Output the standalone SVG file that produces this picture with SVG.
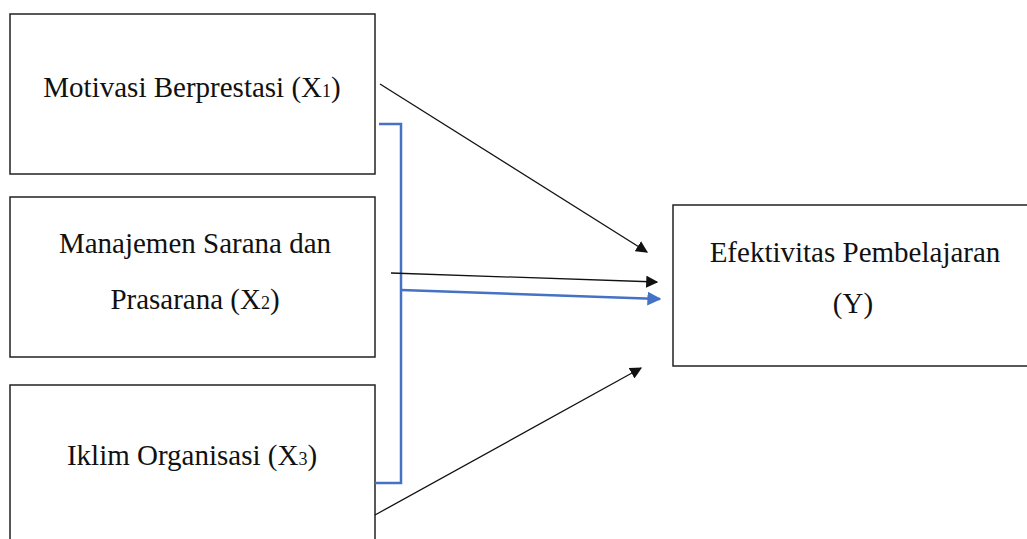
<svg xmlns="http://www.w3.org/2000/svg" width="1027" height="539" viewBox="0 0 1027 539">
<style>
.box{fill:#fff;stroke:#222;stroke-width:1.5}
.t{font-family:"Liberation Serif","Times New Roman",serif;font-size:29px;fill:#111;text-anchor:middle}
.s{font-size:18px}
.blk{stroke:#111;stroke-width:1.3;fill:none}
.blu{stroke:#4472c4;stroke-width:2.5;fill:none}
</style>
<defs>
<marker id="ab" viewBox="0 0 10 10" refX="9" refY="5" markerWidth="12" markerHeight="12" markerUnits="userSpaceOnUse" orient="auto"><path d="M0,0 L10,5 L0,10 z" fill="#111"/></marker>
<marker id="au" viewBox="0 0 10 10" refX="9" refY="5" markerWidth="14" markerHeight="14" markerUnits="userSpaceOnUse" orient="auto"><path d="M0,0 L10,5 L0,10 z" fill="#4472c4"/></marker>
</defs>
<rect width="1027" height="539" fill="#fff"/>
<g id="x1"><rect class="box" x="10" y="14" width="365" height="160"/><text class="t" x="192" y="97">Motivasi Berprestasi (X<tspan class="s">1</tspan>)</text></g>
<g id="x2"><rect class="box" x="10" y="197" width="365" height="160"/><text class="t" x="195" y="253">Manajemen Sarana dan</text><text class="t" x="195" y="309">Prasarana (X<tspan class="s">2</tspan>)</text></g>
<g id="x3"><rect class="box" x="10" y="385" width="365" height="170"/><text class="t" x="192" y="465">Iklim Organisasi (X<tspan class="s">3</tspan>)</text></g>
<g id="y"><rect class="box" x="673" y="205" width="380" height="161"/><text class="t" x="855" y="262">Efektivitas Pembelajaran</text><text class="t" x="853" y="313">(Y)</text></g>
<g id="connectors">
<path class="blu" d="M379,124 H401 V483 H375"/>
<line class="blu" x1="401" y1="290" x2="660" y2="299" marker-end="url(#au)"/>
<line class="blk" x1="391" y1="273" x2="657" y2="282" marker-end="url(#ab)"/>
<line class="blk" x1="380" y1="84" x2="647" y2="252" marker-end="url(#ab)"/>
<line class="blk" x1="375" y1="515" x2="641" y2="368" marker-end="url(#ab)"/>
</g>
</svg>
